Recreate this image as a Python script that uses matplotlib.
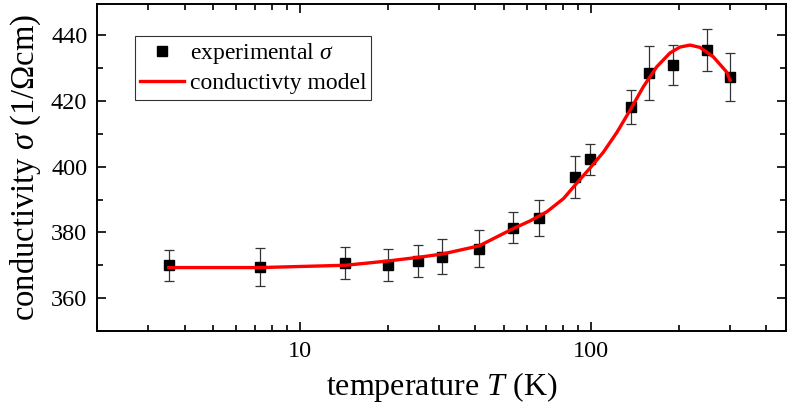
import matplotlib
matplotlib.use("Agg")
import matplotlib.pyplot as plt
from matplotlib.ticker import FixedLocator, MultipleLocator, NullFormatter, FixedFormatter, LogLocator
from matplotlib.lines import Line2D

plt.rcParams['font.family'] = ['Liberation Serif', 'DejaVu Serif']
plt.rcParams['mathtext.fontset'] = 'custom'
plt.rcParams['mathtext.rm'] = 'Liberation Serif'
plt.rcParams['mathtext.it'] = 'Liberation Serif:italic'

temp_exp = [3.53, 7.25, 14.3, 20.0, 25.5, 30.7, 41.2, 54.1, 66.2, 88.1, 99.2, 137.0, 158.6, 191.0, 249.8, 300.4]
sigma_exp = [370.0, 369.5, 370.7, 370.0, 371.3, 372.6, 375.1, 381.4, 384.5, 396.9, 402.2, 418.2, 428.5, 430.9, 435.4, 427.3]
sigma_err = [4.7, 5.7, 4.9, 4.9, 4.9, 5.3, 5.5, 4.7, 5.5, 6.3, 4.8, 5.2, 8.1, 6.1, 6.4, 7.3]

# model curve samples
temp_model = [3.53, 7.25, 14.3, 20.0, 25.4, 30.7, 41.2, 54.1, 61.7, 70.5, 80.4, 89.3, 99.2,
              110.2, 122.6, 136.2, 151.2, 168.2, 186.8, 202.2, 218.9, 236.9, 263.3, 292.6, 300.4]
sigma_model = [369.3, 369.3, 370.0, 371.3, 372.4, 373.4, 375.9, 381.2, 383.5, 386.3, 390.3, 395.0, 399.6,
               404.4, 410.4, 417.2, 424.3, 430.4, 434.6, 436.4, 437.0, 436.3, 433.4, 428.8, 426.3]

fig = plt.figure(figsize=(7.87, 4.15), dpi=100)
ax = fig.add_axes([97 / 787, 84 / 415, 689 / 787, 327 / 415])

ax.errorbar(temp_exp, sigma_exp, yerr=sigma_err, fmt='none', ecolor='#333333',
            elinewidth=0.9, capsize=3.8, capthick=0.9, zorder=2)
ax.plot(temp_exp, sigma_exp, 's', color='black', markersize=7.5, zorder=3)
ax.plot(temp_model, sigma_model, '-', color='#ff0000', lw=2.4, zorder=4)

ax.set_xscale('log')
ax.set_xlim(2.0, 468)
ax.set_ylim(350, 449.5)

ax.xaxis.set_major_locator(FixedLocator([10, 100]))
ax.xaxis.set_major_formatter(FixedFormatter(['10', '100']))
ax.xaxis.set_minor_locator(LogLocator(base=10, subs=range(2, 10)))
ax.xaxis.set_minor_formatter(NullFormatter())
ax.yaxis.set_major_locator(MultipleLocator(20))
ax.yaxis.set_minor_locator(MultipleLocator(10))

for s in ax.spines.values():
    s.set_linewidth(1.4)
ax.tick_params(which='both', direction='in', top=True, right=True, width=1.2, labelsize=17.5)
ax.tick_params(which='major', length=6.5, pad=7)
ax.tick_params(which='minor', length=4)

ax.set_xlabel('temperature $T$ (K)', fontsize=23, labelpad=6)
ax.set_ylabel(r'conductivity $\sigma$ (1/$\Omega$cm)', fontsize=23.5, labelpad=6)

handles = [
    Line2D([], [], marker='s', color='black', linestyle='none', markersize=7.5),
    Line2D([], [], color='#ff0000', lw=2.4),
]
leg = ax.legend(handles, [r'experimental $\sigma$', 'conductivty model'],
                loc='upper left', bbox_to_anchor=(0.055, 0.902), fontsize=17,
                frameon=True, fancybox=False, handlelength=1.85, handletextpad=0.25,
                borderpad=0.22, labelspacing=0.28, borderaxespad=0)
leg.get_frame().set_edgecolor('black')
leg.get_frame().set_linewidth(0.8)

fig.savefig('out.png', dpi=100)
